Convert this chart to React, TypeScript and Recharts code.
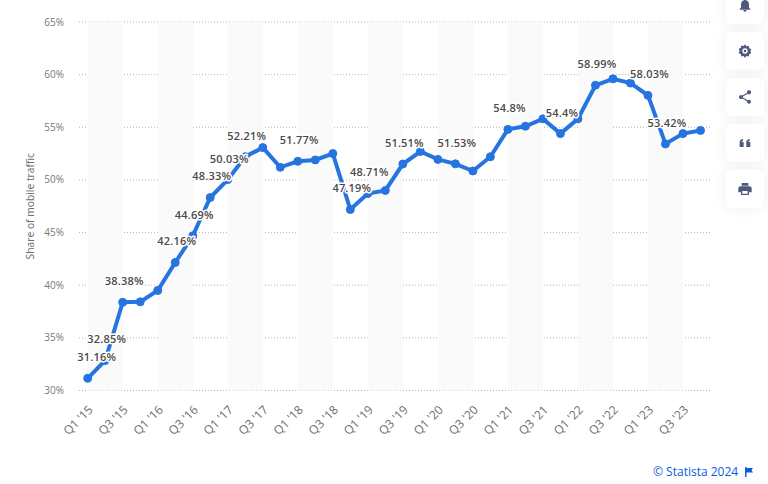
import React from "react";
import { LineChart, Line, XAxis, YAxis, CartesianGrid, ReferenceArea } from "recharts";

const quarters = [
  "Q1 '15","Q2 '15","Q3 '15","Q4 '15","Q1 '16","Q2 '16","Q3 '16","Q4 '16","Q1 '17",
  "Q2 '17","Q3 '17","Q4 '17","Q1 '18","Q2 '18","Q3 '18","Q4 '18","Q1 '19","Q2 '19",
  "Q3 '19","Q4 '19","Q1 '20","Q2 '20","Q3 '20","Q4 '20","Q1 '21","Q2 '21","Q3 '21",
  "Q4 '21","Q1 '22","Q2 '22","Q3 '22","Q4 '22","Q1 '23","Q2 '23","Q3 '23","Q4 '23",
];
const share = [
  31.16,32.85,38.38,38.42,39.5,42.16,44.69,48.33,50.03,52.21,53.07,51.2,51.77,51.9,52.5,47.19,48.71,49.0,
  51.51,52.7,51.95,51.53,50.85,52.2,54.8,55.1,55.8,54.4,55.8,58.99,59.6,59.2,58.03,53.42,54.4,54.7,
];
const labelled = [0,1,2,5,6,7,8,9,12,15,16,18,21,24,27,29,32,33];
const yTicks = [30,35,40,45,50,55,60,65];
const bandStarts = ["Q1 '15","Q1 '16","Q1 '17","Q1 '18","Q1 '19","Q1 '20","Q1 '21","Q1 '22","Q1 '23"];
const bandEnds = ["Q3 '15","Q3 '16","Q3 '17","Q3 '18","Q3 '19","Q3 '20","Q3 '21","Q3 '22","Q3 '23"];

const rows = quarters.map((q, i) => ({ q, v: share[i] }));
const FONT = "'Open Sans', sans-serif";

const PointLabel = (p: any) => {
  if (!labelled.includes(p.index)) return null;
  const dx = p.index === 0 ? 9 : 1.5;
  return (
    <text x={p.x + dx} y={p.y - 20} textAnchor="middle" dominantBaseline="middle"
      fontFamily={FONT} fontSize={11} fontWeight={600} letterSpacing={0.2} fill="#4a4a4a"
      stroke="#fff" strokeWidth={3} paintOrder="stroke" strokeLinejoin="round">
      {`${share[p.index]}%`}
    </text>
  );
};

const icons: string[] = [
  "M12 22a2.5 2.5 0 0 0 2.5-2.5h-5A2.5 2.5 0 0 0 12 22zM18 16v-5c0-3-1.6-5.6-4.5-6.3V4a1.5 1.5 0 0 0-3 0v.7C7.6 5.4 6 8 6 11v5l-2 2v1h16v-1z",
  "M12 8a4 4 0 1 0 0 8 4 4 0 0 0 0-8zm0-6 2 3 3.5-.8.8 3.5 3.2 1.8-1.5 3 1.5 2.5-3.2 1.8-.8 3.5-3.5-.8-2 3-2-3-3.5.8-.8-3.5L2.5 15 4 12 2.5 9l3.2-1.8.8-3.5 3.5.8zM12 10a2 2 0 1 1 0 4 2 2 0 0 1 0-4z",
  "M18 16a3 3 0 0 0-2 .8L8.9 12.7a3 3 0 0 0 0-1.4L16 7.2A3 3 0 1 0 15 5c0 .2 0 .5.1.7L8 9.8a3 3 0 1 0 0 4.4l7.1 4.1A3 3 0 1 0 18 16z",
  "M4 11c0-3 1.5-4.5 5-5v2.5c-1.2.2-2 .8-2 2h3V18H4zM14 11c0-3 1.5-4.5 5-5v2.5c-1.2.2-2 .8-2 2h3V18h-6z",
  "M7 3h10v4H7zM5 8h14a3 3 0 0 1 3 3v6h-4v4H6v-4H2v-6a3 3 0 0 1 3-3zm3 7v4h8v-4z",
];
const cardTops = [-14, 32, 78, 124, 170];

export default function App() {
  return (
    <div style={{ position: "absolute", left: 0, top: 0, width: 768, height: 484, background: "#fff", overflow: "hidden" }}>
      <LineChart width={768} height={484} data={rows} margin={{ top: 22, right: 58, bottom: 0, left: 0 }}>
        {bandStarts.map((s, i) => (
          <ReferenceArea key={s} x1={s} x2={bandEnds[i]} fill="#fafafa" fillOpacity={1} stroke="none" ifOverflow="extendDomain" />
        ))}
        <CartesianGrid vertical={false} stroke="#b5b5b5" strokeDasharray="1 2" />
        <XAxis dataKey="q" interval={1} height={93.5} padding={{ left: 8.7, right: 9.5 }}
          axisLine={false} tickLine={false} tickSize={0} tickMargin={14} angle={-45} textAnchor="end"
          tick={{ fontFamily: FONT, fontSize: 12, fill: "#6e6e6e" }} />
        <YAxis width={79} domain={[30, 65]} ticks={yTicks} tickFormatter={(v: number) => `${v}%`}
          axisLine={false} tickLine={false} tickSize={0} tickMargin={15}
          tick={{ fontFamily: FONT, fontSize: 10, fill: "#777" }}
          label={{ value: "Share of mobile traffic", angle: -90, position: "insideLeft", dx: 25, fontFamily: FONT, fontSize: 10.3, fill: "#6e6e6e", style: { textAnchor: "middle" } }} />
        <Line dataKey="v" stroke="#2574e0" strokeWidth={4} isAnimationActive={false}
          dot={{ r: 4, fill: "#2574e0", stroke: "#2574e0", strokeWidth: 1 }} label={PointLabel} />
      </LineChart>
      {cardTops.map((top, i) => (
        <div key={top} style={{ position: "absolute", left: 726, top, width: 38, height: 38, background: "#fff", borderRadius: 5, boxShadow: "0 0 14px rgba(60,70,100,0.08)", display: "flex", alignItems: "center", justifyContent: "center" }}>
          <svg width={16} height={16} viewBox="0 0 24 24"><path d={icons[i]} fill="#4f5b7c" fillRule="evenodd" /></svg>
        </div>
      ))}
      <div style={{ position: "absolute", left: 653, top: 464, fontFamily: FONT, fontSize: 12, lineHeight: "16px", color: "#0a5be0", whiteSpace: "nowrap" }}>© Statista 2024</div>
      <svg style={{ position: "absolute", left: 745, top: 467 }} width={8} height={10} viewBox="0 0 8 10">
        <path d="M0 0h1.5v10H0zM1.5 1H8L6.5 3.2 8 5.5H1.5z" fill="#0a5be0" />
      </svg>
    </div>
  );
}
